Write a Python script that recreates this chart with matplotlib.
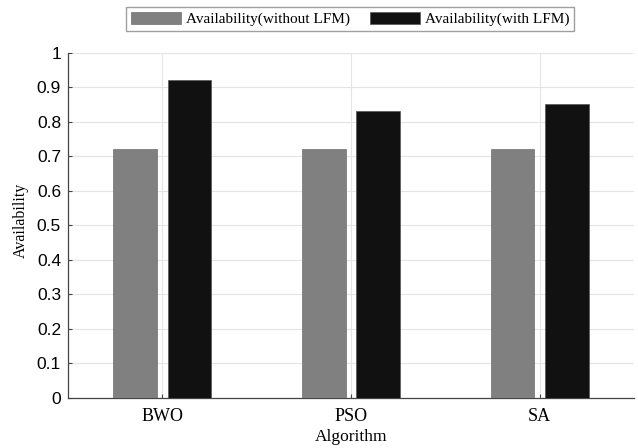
import matplotlib
matplotlib.use("Agg")
import matplotlib.pyplot as plt
import numpy as np

# data
algorithms = ["BWO", "PSO", "SA"]
avail_without = [0.72, 0.72, 0.72]
avail_with = [0.92, 0.83, 0.85]
yticks = [0, 0.1, 0.2, 0.3, 0.4, 0.5, 0.6, 0.7, 0.8, 0.9, 1]
ytick_labels = ["0", "0.1", "0.2", "0.3", "0.4", "0.5", "0.6", "0.7", "0.8", "0.9", "1"]

SERIF = ["Liberation Serif", "DejaVu Serif"]
SANS = ["Liberation Sans", "DejaVu Sans"]

fig = plt.figure(figsize=(6.38, 4.48), dpi=100)
ax = fig.add_axes([68 / 638, 1 - 398 / 448, (634 - 68) / 638, (398 - 52.7) / 448])

x = np.arange(1, len(algorithms) + 1)
w = 0.23
off = 0.144
b1 = ax.bar(x - off, avail_without, w, color="#808080", edgecolor="#6e6e6e",
            lw=0.5, zorder=3, label="Availability(without LFM)")
b2 = ax.bar(x + off, avail_with, w, color="#111111", edgecolor="#555555",
            lw=0.5, zorder=3, label="Availability(with LFM)")

ax.set_xlim(0.5, 3.5)
ax.set_ylim(0, 1)
ax.set_xticks(x)
ax.set_xticklabels(algorithms, family=SERIF, fontsize=13)
ax.set_yticks(yticks)
ax.set_yticklabels(ytick_labels, family=SANS, fontsize=12.5)
ax.tick_params(direction="in", length=3, color="#444444", pad=5)
ax.tick_params(axis="x", pad=7)

ax.grid(True, color="#e4e4e4", lw=0.8, zorder=0)
for s in ["top", "right"]:
    ax.spines[s].set_visible(False)
for s in ["left", "bottom"]:
    ax.spines[s].set_color("#444444")
    ax.spines[s].set_linewidth(0.9)

ax.set_xlabel("Algorithm", family=SERIF, fontsize=12.5, labelpad=3)
ax.set_ylabel("Availability", family=SERIF, fontsize=11.5)
ax.yaxis.set_label_coords((29 - 68) / 566, 0.515)

fig.legend(handles=[b1, b2], loc="center", bbox_to_anchor=(350 / 638, 1 - 19 / 448),
           ncol=2, frameon=True, fancybox=False, edgecolor="#888888",
           prop={"family": SERIF, "size": 11}, handlelength=3.3, handleheight=0.9,
           handletextpad=0.3, columnspacing=1.3, borderpad=0.3, borderaxespad=0)

fig.savefig("out.png", dpi=100)
